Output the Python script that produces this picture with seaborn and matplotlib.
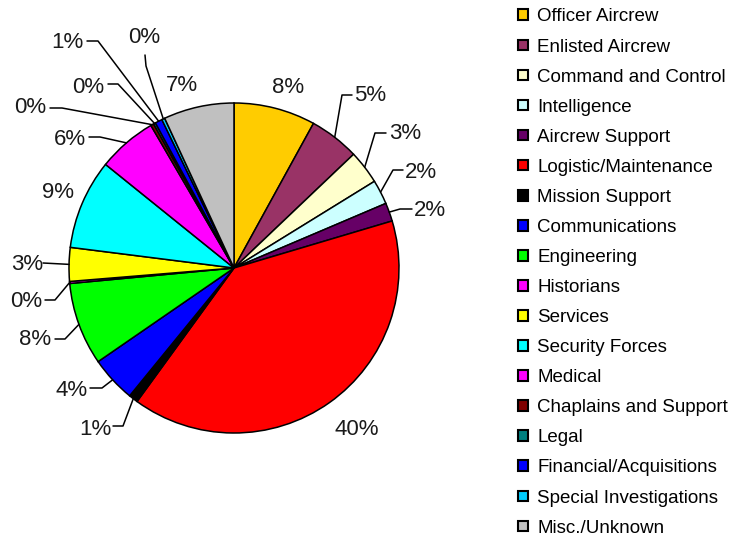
import matplotlib
matplotlib.use("Agg")
import matplotlib.pyplot as plt
import seaborn as sns
import numpy as np
from matplotlib.patches import Patch

categories = [
    'Officer Aircrew', 'Enlisted Aircrew', 'Command and Control', 'Intelligence',
    'Aircrew Support', 'Logistic/Maintenance', 'Mission Support', 'Communications',
    'Engineering', 'Historians', 'Services', 'Security Forces', 'Medical',
    'Chaplains and Support', 'Legal', 'Financial/Acquisitions',
    'Special Investigations', 'Misc./Unknown'
]
shares = [8.0, 4.9, 3.3, 2.4, 1.8, 39.6, 0.9, 4.5, 8.1, 0.2,
          3.3, 8.8, 5.8, 0.3, 0.2, 0.7, 0.3, 6.9]
colors = [
    '#FFCC00', '#993366', '#FFFFCC', '#CCFFFF', '#660066', '#FF0000',
    '#000000', '#0000FF', '#00FF00', '#FF00FF', '#FFFF00', '#00FFFF',
    '#FF00FF', '#800000', '#008080', '#0000FF', '#00CCFF', '#C0C0C0'
]

# label layout in image pixels (text centre, then leader bends)
label_px = [(288, 88), (370, 96), (405, 134), (421, 173), (430, 211),
            (357, 430), (95, 430), (72, 391), (35, 340), (26, 302),
            (27, 265), (58, 193), (70, 140), (30, 108), (88, 88),
            (67, 43), (144, 38), (182, 86)]
leaders = [None, [(342, 95), (352, 95)], [(375, 133), (386, 133)],
           [(393, 170), (403, 170)], [(400, 209), (412, 209)], None,
           [(123, 426), (113, 426)], [(102, 388), (90, 388)],
           [(65, 339), (55, 339)], [(55, 300), (45, 300)], [(43, 263)], None,
           [(100, 137), (89, 137)], [(62, 108), (50, 108)],
           [(118, 84), (108, 84)], [(98, 41), (87, 41)],
           [(146, 66), (145, 55)], None]

sns.set_theme(style="white")
plt.rcParams['font.family'] = ['Liberation Sans', 'DejaVu Sans']

W, H = 732, 540
cx, cy, R = 234, 268, 165


def px2d(p):
    return ((p[0] - cx) / R, (cy - p[1]) / R)


fig = plt.figure(figsize=(W / 100, H / 100), dpi=100)
ax = fig.add_axes([0, 0, 500 / W, 1])

wedges, _ = ax.pie(shares, colors=colors, startangle=90, counterclock=False,
                   wedgeprops={'edgecolor': 'black', 'linewidth': 1.1})
ax.set_aspect('auto')
ax.set_xlim(-cx / R, (500 - cx) / R)
ax.set_ylim((cy - H) / R, cy / R)
ax.axis('off')

total = sum(shares)
for w, v, pos, lead in zip(wedges, shares, label_px, leaders):
    tx, ty = px2d(pos)
    ax.text(tx, ty, f"{round(v * 100 / total):.0f}%", ha='center', va='center',
            fontsize=16, color='#1a1a1a')
    if lead:
        mid = np.deg2rad((w.theta1 + w.theta2) / 2)
        pts = [(np.cos(mid), np.sin(mid))] + [px2d(p) for p in lead]
        xs, ys = zip(*pts)
        ax.plot(xs, ys, color='black', lw=1.1)

handles = [Patch(facecolor=c, edgecolor='black', linewidth=1.5) for c in colors]
fig.legend(handles, categories, loc='upper left', bbox_to_anchor=(510 / W, 1.0),
           frameon=False, fontsize=13.5, handlelength=0.5, handleheight=0.5,
           handletextpad=0.5, labelspacing=0.697, borderaxespad=0.05,
           labelcolor='black')

plt.savefig('out.png', dpi=100)
plt.close()
